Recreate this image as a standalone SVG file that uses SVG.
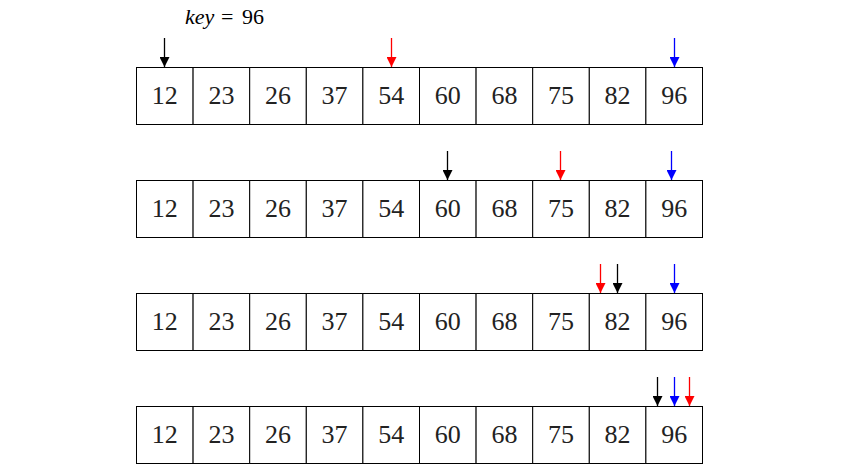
<svg xmlns="http://www.w3.org/2000/svg" width="850" height="475" viewBox="0 0 850 475">
<style>
.c{fill:#fff;stroke:#000;stroke-width:1}
.t{font-family:"Liberation Serif","DejaVu Serif",serif;font-size:26px;text-anchor:middle;fill:#222}
.k{font-family:"Liberation Serif","DejaVu Serif",serif;font-size:22px;fill:#000}
.a{stroke-width:1.3}
</style>
<defs>
<marker id="hk" viewBox="0 0 10 10" refX="10" refY="5" markerWidth="10" markerHeight="10" markerUnits="userSpaceOnUse" orient="auto"><path d="M0,0L10,5L0,10z" fill="#000"/></marker>
<marker id="hr" viewBox="0 0 10 10" refX="10" refY="5" markerWidth="10" markerHeight="10" markerUnits="userSpaceOnUse" orient="auto"><path d="M0,0L10,5L0,10z" fill="#f00"/></marker>
<marker id="hb" viewBox="0 0 10 10" refX="10" refY="5" markerWidth="10" markerHeight="10" markerUnits="userSpaceOnUse" orient="auto"><path d="M0,0L10,5L0,10z" fill="#00f"/></marker>
<g id="cells">
<rect class="c" x="0" y="0" width="56.6" height="57"/>
</g>
</defs>
<text class="k" y="24"><tspan x="185" font-style="italic">key</tspan><tspan x="221">=</tspan><tspan x="242">96</tspan></text>
<g id="row1" transform="translate(136.5,67.5)">
<use href="#cells" x="0"/><use href="#cells" x="56.6"/><use href="#cells" x="113.2"/><use href="#cells" x="169.8"/><use href="#cells" x="226.4"/><use href="#cells" x="283"/><use href="#cells" x="339.6"/><use href="#cells" x="396.2"/><use href="#cells" x="452.8"/><use href="#cells" x="509.4"/>
<text class="t" y="36"><tspan x="28.3">12</tspan><tspan x="84.9">23</tspan><tspan x="141.5">26</tspan><tspan x="198.1">37</tspan><tspan x="254.7">54</tspan><tspan x="311.3">60</tspan><tspan x="367.9">68</tspan><tspan x="424.5">75</tspan><tspan x="481.1">82</tspan><tspan x="537.7">96</tspan></text>
</g>
<g id="row2" transform="translate(136.5,180.5)">
<use href="#cells" x="0"/><use href="#cells" x="56.6"/><use href="#cells" x="113.2"/><use href="#cells" x="169.8"/><use href="#cells" x="226.4"/><use href="#cells" x="283"/><use href="#cells" x="339.6"/><use href="#cells" x="396.2"/><use href="#cells" x="452.8"/><use href="#cells" x="509.4"/>
<text class="t" y="36"><tspan x="28.3">12</tspan><tspan x="84.9">23</tspan><tspan x="141.5">26</tspan><tspan x="198.1">37</tspan><tspan x="254.7">54</tspan><tspan x="311.3">60</tspan><tspan x="367.9">68</tspan><tspan x="424.5">75</tspan><tspan x="481.1">82</tspan><tspan x="537.7">96</tspan></text>
</g>
<g id="row3" transform="translate(136.5,293.5)">
<use href="#cells" x="0"/><use href="#cells" x="56.6"/><use href="#cells" x="113.2"/><use href="#cells" x="169.8"/><use href="#cells" x="226.4"/><use href="#cells" x="283"/><use href="#cells" x="339.6"/><use href="#cells" x="396.2"/><use href="#cells" x="452.8"/><use href="#cells" x="509.4"/>
<text class="t" y="36"><tspan x="28.3">12</tspan><tspan x="84.9">23</tspan><tspan x="141.5">26</tspan><tspan x="198.1">37</tspan><tspan x="254.7">54</tspan><tspan x="311.3">60</tspan><tspan x="367.9">68</tspan><tspan x="424.5">75</tspan><tspan x="481.1">82</tspan><tspan x="537.7">96</tspan></text>
</g>
<g id="row4" transform="translate(136.5,406.5)">
<use href="#cells" x="0"/><use href="#cells" x="56.6"/><use href="#cells" x="113.2"/><use href="#cells" x="169.8"/><use href="#cells" x="226.4"/><use href="#cells" x="283"/><use href="#cells" x="339.6"/><use href="#cells" x="396.2"/><use href="#cells" x="452.8"/><use href="#cells" x="509.4"/>
<text class="t" y="36"><tspan x="28.3">12</tspan><tspan x="84.9">23</tspan><tspan x="141.5">26</tspan><tspan x="198.1">37</tspan><tspan x="254.7">54</tspan><tspan x="311.3">60</tspan><tspan x="367.9">68</tspan><tspan x="424.5">75</tspan><tspan x="481.1">82</tspan><tspan x="537.7">96</tspan></text>
</g>
<g id="connectors" class="a">
<line x1="164.5" y1="38" x2="164.5" y2="67" stroke="#000" marker-end="url(#hk)"/>
<line x1="391.5" y1="38" x2="391.5" y2="67" stroke="#f00" marker-end="url(#hr)"/>
<line x1="674.5" y1="38" x2="674.5" y2="67" stroke="#00f" marker-end="url(#hb)"/>
<line x1="447.5" y1="151" x2="447.5" y2="180" stroke="#000" marker-end="url(#hk)"/>
<line x1="560.5" y1="151" x2="560.5" y2="180" stroke="#f00" marker-end="url(#hr)"/>
<line x1="671.5" y1="151" x2="671.5" y2="180" stroke="#00f" marker-end="url(#hb)"/>
<line x1="600.5" y1="264" x2="600.5" y2="293" stroke="#f00" marker-end="url(#hr)"/>
<line x1="617.5" y1="264" x2="617.5" y2="293" stroke="#000" marker-end="url(#hk)"/>
<line x1="674.5" y1="264" x2="674.5" y2="293" stroke="#00f" marker-end="url(#hb)"/>
<line x1="657.5" y1="377" x2="657.5" y2="406" stroke="#000" marker-end="url(#hk)"/>
<line x1="674.5" y1="377" x2="674.5" y2="406" stroke="#00f" marker-end="url(#hb)"/>
<line x1="689.5" y1="377" x2="689.5" y2="406" stroke="#f00" marker-end="url(#hr)"/>
</g>
</svg>
